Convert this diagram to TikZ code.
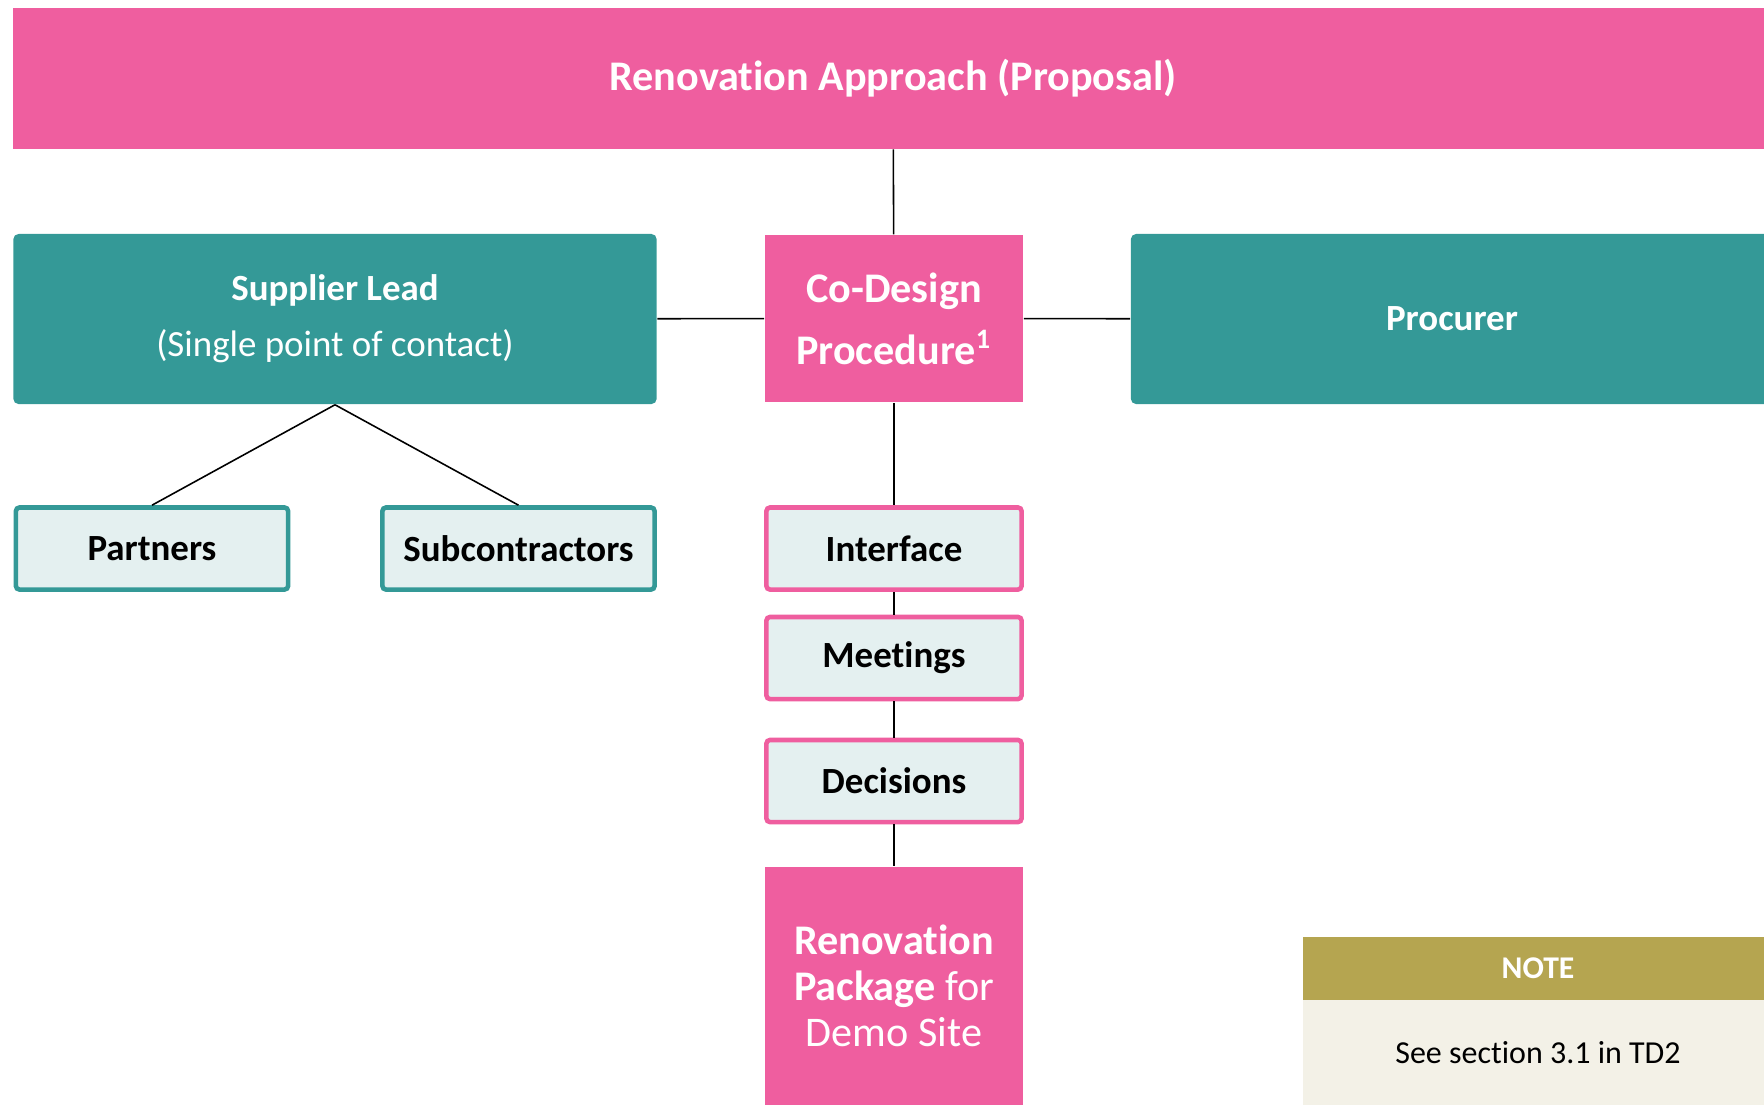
\documentclass[tikz,border=0pt]{standalone}
\usepackage{fontspec}
\setmainfont{Carlito}[Ligatures={NoCommon,NoContextual,NoRare}, Contextuals=NoAlternate]
\usetikzlibrary{positioning}

\definecolor{rapink}{RGB}{239,94,159}
\definecolor{rateal}{RGB}{52,153,151}
\definecolor{ralight}{RGB}{228,240,240}
\definecolor{raolive}{RGB}{181,165,80}
\definecolor{racream}{RGB}{243,241,231}

\begin{document}
\begin{tikzpicture}[x=0.01cm, y=-0.01cm, link/.style = {draw, line width=0.45pt}, pinkbox/.style = {fill=rapink, text=white, align=center, inner sep=0pt, font=\fontsize{12}{17.6}\selectfont\bfseries}, tealbox/.style = {fill=rateal, text=white, align=center, inner sep=0pt, rounded corners=1.5pt, font=\fontsize{10.5}{16}\selectfont}, teamcell/.style = {draw=rateal, fill=ralight, line width=1.3pt, rounded corners=1pt, minimum width=2.72cm, minimum height=0.82cm, font=\fontsize{10.5}{13}\selectfont\bfseries}, stepcell/.style = {draw=rapink, fill=ralight, line width=1.3pt, rounded corners=1pt, minimum width=2.55cm, minimum height=0.82cm, font=\fontsize{10.5}{13}\selectfont\bfseries}]

    \useasboundingbox (0,0) rectangle (1764,1105);

    % top bar
    \node[pinkbox, minimum width=17.58cm, minimum height=1.40cm] (top) at (893,78.5) {Renovation Approach (Proposal)};

    % middle row
    \node[tealbox, minimum width=6.43cm, minimum height=1.70cm] (sup) at (335,319) {\textbf{Supplier Lead}\\(Single point of contact)};
    \node[pinkbox, minimum width=2.58cm, minimum height=1.67cm] (codes) at (894,318.5) {Co-Design\\Procedure\textsuperscript{1}};
    \node[tealbox, minimum width=6.42cm, minimum height=1.70cm, font=\fontsize{10.5}{16}\selectfont\bfseries] (proc) at (1452,319) {Procurer};

    % supplier side
    \node[teamcell] (part) at (152,548.5) {Partners};
    \node[teamcell] (sub) at (518.5,548.5) {Subcontractors};

    % co-design steps
    \node[stepcell] (intf) at (894,548.5) {Interface};
    \node[stepcell] (meet) at (894,658) {Meetings};
    \node[stepcell] (dec) at (894,781) {Decisions};
    \node[pinkbox, minimum width=2.58cm, minimum height=2.38cm, font=\fontsize{12}{13}\selectfont] (pkg) at (894,986) {\textbf{Renovation}\\\textbf{Package} for\\Demo Site};

    % note
    \node[fill=raolive, text=white, minimum width=4.70cm, minimum height=0.63cm, inner sep=0pt, font=\fontsize{9}{11}\selectfont\bfseries] (notehd) at (1538,968.5) {NOTE};
    \node[fill=racream, minimum width=4.70cm, minimum height=1.05cm, inner sep=0pt, font=\fontsize{9.1}{11}\selectfont] (notebd) at (1538,1052.5) {See section 3.1 in TD2};

    % links
    \draw[link] (top) -- (codes);
    \draw[link] (sup) -- (codes);
    \draw[link] (codes) -- (proc);
    \draw[link] (sup.south) -- (part.north);
    \draw[link] (sup.south) -- (sub.north);
    \draw[link] (codes) -- (intf);
    \draw[link] (intf) -- (meet);
    \draw[link] (meet) -- (dec);
    \draw[link] (dec) -- (pkg);

\end{tikzpicture}
\end{document}
